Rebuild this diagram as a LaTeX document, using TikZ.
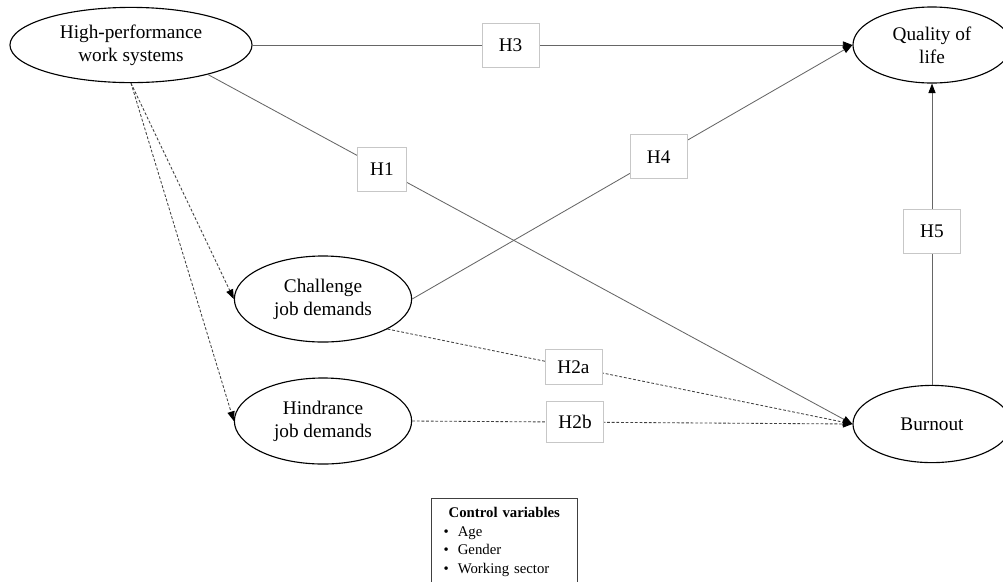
\documentclass[tikz,border=0pt]{standalone}
\usepackage{fontspec}
\setmainfont{Liberation Serif}
\usepackage{tikz}
\usetikzlibrary{arrows.meta, shapes.geometric}

\begin{document}
\begin{tikzpicture}[x=0.025cm, y=-0.025cm,
			var/.style={ellipse, draw=black, line width=0.8pt, inner sep=0pt, align=center,
				font=\fontsize{13.7}{16.2}\selectfont},
			hyp/.style={rectangle, draw=black!22, fill=white, solid, line width=0.5pt, inner sep=0pt,
				minimum width=1.42cm, minimum height=1.1cm, font=\fontsize{13.7}{14.6}\selectfont},
			arr/.style={-{Triangle[length=2.4mm, width=1.8mm, color=black]}, draw=black!60, line width=0.6pt},
			darr/.style={arr, draw=black!75, dash pattern=on 2pt off 1.3pt}
			]
			\useasboundingbox (0,0) rectangle (1003,581);
			
			\node[var, minimum width=6.05cm, minimum height=1.88cm] (hpws) at (131,45) {High-performance\\work systems};
			\node[var, minimum width=3.95cm, minimum height=1.9cm] (qol) at (932,45) {Quality of\\life};
			\node[var, minimum width=4.43cm, minimum height=2.15cm] (chal) at (323,299) {Challenge\\job demands};
			\node[var, minimum width=4.43cm, minimum height=2.15cm] (hind) at (323,421) {Hindrance\\job demands};
			\node[var, minimum width=3.95cm, minimum height=1.93cm] (burn) at (932,424) {Burnout};
			
			\draw[arr] (hpws.east) -- node[hyp, pos=0.43] (h3) {H3} (qol.west);
			\draw[arr] (hpws.-21) -- node[hyp, pos=0.27, minimum width=1.23cm] (h1) {H1} (burn.west);
			\draw[arr] (chal.east) -- node[hyp, pos=0.56] (h4) {H4} (qol.west);
			\draw[arr] (burn.north) -- node[hyp, pos=0.51] (h5) {H5} (qol.south);
			\draw[darr] (chal.-25) -- node[hyp, pos=0.4, minimum height=0.88cm] (h2a) {H2a} (burn.west);
			\draw[darr] (hind.east) -- node[hyp, pos=0.37, minimum height=1.02cm] (h2b) {H2b} (burn.west);
			\draw[darr] (hpws.south) -- (chal.west);
			\draw[darr] (hpws.south) -- (hind.west);
			
			% control variables (cut at the bottom)
			\node[draw=black!75, line width=0.8pt, anchor=north west, inner xsep=8.5pt, inner ysep=6.5pt,
				text width=86.5pt, font=\fontsize{10.5}{13.1}\selectfont] (ctrl) at (431,498)
				{{\centering\textbf{Control variables}\par}
				\textbullet\hspace{6.5pt}Age\par
				\textbullet\hspace{6.5pt}Gender\par
				\textbullet\hspace{6.5pt}Working sector\par\vspace*{20pt}};
		\end{tikzpicture}
\end{document}
